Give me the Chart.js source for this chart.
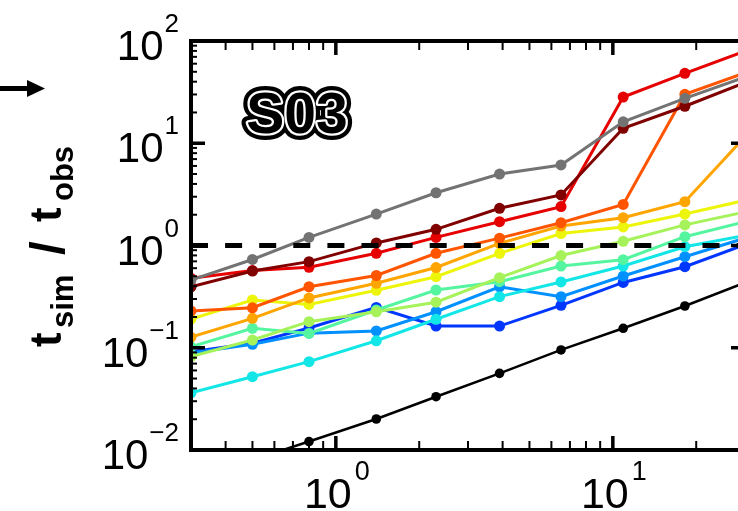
<!DOCTYPE html>
<html>
<head>
<meta charset="utf-8">
<title>S03</title>
<script src="https://cdn.jsdelivr.net/npm/chart.js@4.4.1/dist/chart.umd.min.js"></script>
<style>
  html, body { margin: 0; padding: 0; background: #fff; overflow: hidden; }
  #wrap { width: 760px; height: 511px; }
</style>
</head>
<body>
<div id="wrap"><canvas id="ratioChart" width="760" height="511"></canvas></div>
<script>
// x positions shared by every run
const xValues = [0.3, 0.5, 0.8, 1.4, 2.3, 3.9, 6.5, 10.9, 18.2, 30.3];

// t_sim / t_obs per run
const grayRun      = [0.46, 0.73, 1.20, 2.03, 3.28, 5.00, 6.13, 16.2, 27.5, 44.7];
const darkRedRun   = [0.395, 0.563, 0.695, 1.06, 1.44, 2.31, 3.12, 14.0, 23.0, 39.5];
const redRun       = [0.478, 0.569, 0.612, 0.839, 1.20, 1.71, 2.40, 28.3, 48.3, 80.4];
const orangeRedRun = [0.229, 0.246, 0.395, 0.509, 0.839, 1.18, 1.67, 2.52, 30.1, 49.3];
const orangeRun    = [0.127, 0.194, 0.307, 0.427, 0.609, 1.05, 1.55, 1.87, 2.68, 11.9];
const yellowRun    = [0.191, 0.293, 0.265, 0.365, 0.495, 0.839, 1.31, 1.52, 2.03, 2.78];
const lightGreenRun= [0.082, 0.119, 0.180, 0.225, 0.279, 0.484, 0.798, 1.10, 1.59, 2.14];
const mintRun      = [0.102, 0.155, 0.138, 0.234, 0.367, 0.443, 0.630, 0.726, 1.22, 1.72];
const cyanRun      = [0.0363, 0.0521, 0.0731, 0.117, 0.190, 0.316, 0.440, 0.630, 0.973, 1.26];
const skyBlueRun   = [0.0888, 0.108, 0.139, 0.146, 0.225, 0.395, 0.316, 0.503, 0.777, 1.19];
const blueRun      = [0.0915, 0.111, 0.156, 0.248, 0.163, 0.163, 0.260, 0.435, 0.620, 1.03];
const blackRun     = [0.0045, 0.008, 0.0121, 0.0201, 0.0332, 0.0562, 0.0952, 0.155, 0.256, 0.438];

const refLevel = 1;

// tick labels are powers of ten
const xTickExps = [0, 1];
const yTickExps = [-2, -1, 0, 1, 2];

const runs = [
    { data: blackRun,      color: '#000000', width: 2.5, radius: 4.8 },
    { data: blueRun,       color: '#0036ff', width: 3, radius: 5.5 },
    { data: skyBlueRun,    color: '#0090ff', width: 3, radius: 5.5 },
    { data: cyanRun,       color: '#12e6e6', width: 3, radius: 5.5 },
    { data: mintRun,       color: '#55f5a0', width: 3, radius: 5.5 },
    { data: lightGreenRun, color: '#a5f25a', width: 3, radius: 5.5 },
    { data: yellowRun,     color: '#ecf50a', width: 3, radius: 5.5 },
    { data: orangeRun,     color: '#ffa500', width: 3, radius: 5.5 },
    { data: orangeRedRun,  color: '#ff5500', width: 3, radius: 5.5 },
    { data: redRun,        color: '#e60000', width: 3, radius: 5.5 },
    { data: darkRedRun,    color: '#800000', width: 3, radius: 5.5 },
    { data: grayRun,       color: '#737373', width: 3, radius: 5.5 }
];

const FONT = '"Liberation Sans", Arial, Helvetica, sans-serif';

const datasets = runs.map((r, i) => ({
    data: r.data.map((v, k) => ({ x: xValues[k], y: v })),
    borderColor: r.color,
    backgroundColor: r.color,
    pointBackgroundColor: r.color,
    pointBorderWidth: 0,
    pointRadius: r.radius,
    borderWidth: r.width,
    tension: 0,
    order: runs.length - i
}));

// dashed reference line at t_sim = t_obs
datasets.push({
    data: [{ x: 0.3, y: refLevel }, { x: 30, y: refLevel }],
    borderColor: '#000',
    borderWidth: 5,
    borderDash: [17, 17.1],
    pointRadius: 0,
    order: 0
});

function minorTicks(lo, hi) {
    const out = [];
    for (let d = -3; d <= 3; d++) {
        for (let m = 2; m <= 9; m++) {
            const v = m * Math.pow(10, d);
            if (v > lo * 1.0001 && v < hi * 0.9999) out.push(v);
        }
    }
    return out;
}

function expText(e) {
    return e < 0 ? '\u2212' + (-e) : String(e);
}

const framePlugin = {
    id: 'frame',
    afterDraw(chart) {
        const { ctx, chartArea: a } = chart;
        const xs = chart.scales.x, ys = chart.scales.y;
        ctx.save();
        ctx.strokeStyle = '#000';
        ctx.fillStyle = '#000';
        ctx.lineCap = 'butt';

        const line = (x1, y1, x2, y2, w) => {
            ctx.lineWidth = w;
            ctx.beginPath();
            ctx.moveTo(x1, y1);
            ctx.lineTo(x2, y2);
            ctx.stroke();
        };

        // x ticks (top and bottom, pointing inward)
        minorTicks(xs.min, xs.max).forEach(v => {
            const p = xs.getPixelForValue(v);
            line(p, a.top, p, a.top + 9, 2);
            line(p, a.bottom, p, a.bottom - 9, 2);
        });
        xTickExps.forEach(e => {
            const p = xs.getPixelForValue(Math.pow(10, e));
            line(p, a.top, p, a.top + 14, 3.5);
            line(p, a.bottom, p, a.bottom - 14, 3.5);
        });

        // y ticks (left and right)
        minorTicks(ys.min, ys.max).forEach(v => {
            const p = ys.getPixelForValue(v);
            line(a.left, p, a.left + 6, p, 2);
            line(a.right, p, a.right - 6, p, 2);
        });
        yTickExps.forEach(e => {
            const p = ys.getPixelForValue(Math.pow(10, e));
            line(a.left, p, a.left + 14, p, 3.5);
            line(a.right, p, a.right - 14, p, 3.5);
        });

        // axes box
        ctx.lineWidth = 4;
        ctx.strokeRect(a.left, a.top, a.right - a.left, a.bottom - a.top);

        // y tick labels
        ctx.textBaseline = 'alphabetic';
        yTickExps.forEach(e => {
            const p = ys.getPixelForValue(Math.pow(10, e));
            const base = p + 19;
            ctx.font = '26px ' + FONT;
            const et = expText(e);
            const ew = ctx.measureText(et).width;
            ctx.textAlign = 'left';
            ctx.fillText(et, 179 - ew, base - 28);
            ctx.font = '42px ' + FONT;
            ctx.textAlign = 'right';
            ctx.fillText('10', 179 - ew - 1, base);
        });

        // x tick labels
        xTickExps.forEach(e => {
            const p = xs.getPixelForValue(Math.pow(10, e));
            ctx.font = '43px ' + FONT;
            const tw = ctx.measureText('10').width;
            ctx.font = '27px ' + FONT;
            const et = expText(e);
            const ew = ctx.measureText(et).width;
            const start = p + 1 - (tw + 3 + ew) / 2;
            ctx.textAlign = 'left';
            ctx.fillText(et, start + tw + 3, 480);
            ctx.font = '43px ' + FONT;
            ctx.fillText('10', start, 508);
        });

        // y axis title, rotated
        ctx.save();
        ctx.translate(61, 347);
        ctx.rotate(-Math.PI / 2);
        ctx.textAlign = 'left';
        const parts = [
            ['t', 'bold 44px ', 0, 0],
            ['sim', 'bold 31px ', 19, 12],
            ['/', 'bold 49px ', 92, 3],
            ['t', 'bold 44px ', 125, 0],
            ['obs', 'bold 31px ', 146, 12]
        ];
        parts.forEach(([txt, f, pos, shift]) => {
            ctx.font = f + FONT;
            ctx.fillText(txt, pos, shift);
        });
        ctx.restore();

        // run label with outline
        ctx.font = 'bold 57px ' + FONT;
        ctx.textAlign = 'center';
        ctx.lineJoin = 'round';
        ctx.lineWidth = 13;
        ctx.strokeStyle = '#000';
        ctx.strokeText('S03', 297, 133);
        ctx.lineWidth = 4.5;
        ctx.strokeStyle = '#fff';
        ctx.strokeText('S03', 297, 133);
        ctx.fillStyle = '#000';
        ctx.fillText('S03', 297, 133);

        // arrow coming from the neighbouring panel
        ctx.fillStyle = '#000';
        ctx.fillRect(0, 86, 30, 5);
        ctx.beginPath();
        ctx.moveTo(27, 80);
        ctx.lineTo(45, 88.5);
        ctx.lineTo(27, 97);
        ctx.closePath();
        ctx.fill();

        ctx.restore();
    }
};

const ctx = document.getElementById('ratioChart').getContext('2d');
const ratioChart = new Chart(ctx, {
    type: 'line',
    data: { datasets: datasets },
    options: {
        responsive: false,
        animation: false,
        devicePixelRatio: 1,
        layout: { padding: { left: 191, top: 41, right: 15, bottom: 61 } },
        scales: {
            x: { type: 'logarithmic', min: 0.3, max: 30, display: false },
            y: { type: 'logarithmic', min: 0.01, max: 100, display: false }
        },
        plugins: {
            legend: { display: false },
            tooltip: { enabled: false }
        }
    },
    plugins: [framePlugin]
});
</script>
</body>
</html>
